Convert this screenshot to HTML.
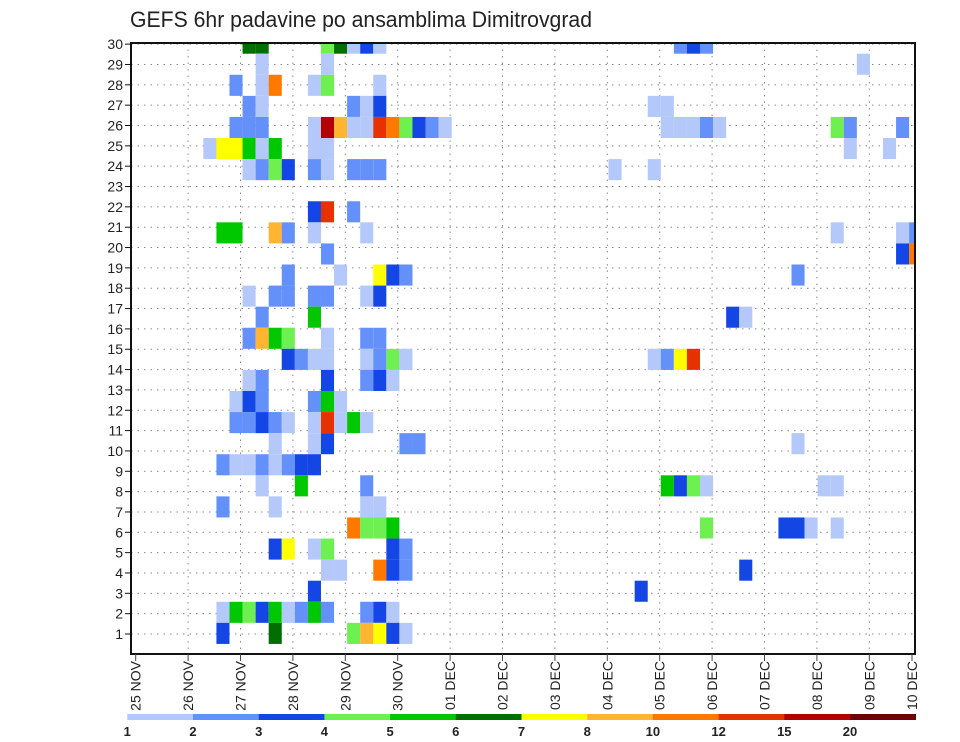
<!DOCTYPE html>
<html><head><meta charset="utf-8"><style>
html,body{margin:0;padding:0;background:#fff;}
svg{display:block;font-family:"Liberation Sans",sans-serif;}
</style></head><body>
<svg id="chart" width="960" height="742" viewBox="0 0 960 742" xmlns="http://www.w3.org/2000/svg">
<defs><clipPath id="plotclip"><rect x="131" y="43" width="784" height="611"/></clipPath></defs>
<rect x="0" y="0" width="960" height="742" fill="#fff"/>
<text x="130" y="27" font-size="22" fill="#222" textLength="462" lengthAdjust="spacingAndGlyphs">GEFS 6hr padavine po ansamblima Dimitrovgrad</text>
<g id="grid"></g>
<g id="cells" clip-path="url(#plotclip)"></g>
<rect x="131" y="43" width="784" height="611" fill="none" stroke="#111" stroke-width="2"/>
<g id="yaxis"></g>
<g id="xaxis"></g>
<g id="legend"></g>
</svg>
<script>
// ---- data ----
const dayLabels = ["25 NOV","26 NOV","27 NOV","28 NOV","29 NOV","30 NOV","01 DEC","02 DEC","03 DEC","04 DEC","05 DEC","06 DEC","07 DEC","08 DEC","09 DEC","10 DEC"];
const memberLabels = [1,2,3,4,5,6,7,8,9,10,11,12,13,14,15,16,17,18,19,20,21,22,23,24,25,26,27,28,29,30];
const levelLabels = [1,2,3,4,5,6,7,8,10,12,15,20];
const levelColors = ["#b4c8fa","#6490fa","#1446e6","#6ef050","#00c800","#006e00","#ffff00","#ffb432","#ff7800","#e63200","#b40000","#6e0000"];
// cells: band (row from top), column (6-hour step), precipitation value (mm)
const cellBand = [
0,0,0,0,0,0,0,0,0,0,
1,1,1,
2,2,2,2,2,2,
3,3,3,3,3,3,3,
4,4,4,4,4,4,4,4,4,4,4,4,4,4,4,4,4,4,4,4,4,4,
5,5,5,5,5,5,5,5,5,5,
6,6,6,6,6,6,6,6,6,6,6,
8,8,8,
9,9,9,9,9,9,9,9,9,
10,10,10,
11,11,11,11,11,11,
12,12,12,12,12,12,12,
13,13,13,13,
14,14,14,14,14,14,14,
15,15,15,15,15,15,15,15,15,15,15,15,
16,16,16,16,16,16,
17,17,17,17,17,17,
18,18,18,18,18,18,18,18,18,18,
19,19,19,19,19,19,
20,20,20,20,20,20,20,20,
21,21,21,21,21,21,21,21,21,
22,22,22,22,
23,23,23,23,23,23,23,23,23,
24,24,24,24,24,24,
25,25,25,25,25,25,
26,26,
27,27,27,27,27,27,27,27,27,27,27,27,
28,28,28,28,28,28,28];
const cellCol = [
8,9,14,15,16,17,18,41,42,43,
9,14,55,
7,9,10,13,14,18,
8,9,16,17,18,39,40,
7,8,9,13,14,15,16,17,18,19,20,21,22,23,40,41,42,43,44,53,54,58,
5,6,7,8,9,10,13,14,54,57,
8,9,10,11,13,14,16,17,18,36,39,
13,14,16,
6,7,10,11,13,17,53,58,59,
14,58,59,
11,15,18,19,20,50,
8,10,11,13,14,17,18,
9,13,45,46,
8,9,10,11,14,17,18,
11,12,13,14,17,18,19,20,39,40,41,42,
8,9,14,17,18,19,
7,8,9,13,14,15,
7,8,9,10,11,13,14,15,16,17,
10,13,14,20,21,50,
6,7,8,9,10,11,12,13,
9,12,17,40,41,42,43,52,53,
6,10,17,18,
16,17,18,19,43,49,50,51,53,
10,11,13,14,19,20,
14,15,18,19,20,46,
13,38,
6,7,8,9,10,11,12,13,14,17,18,19,
6,10,16,17,18,19,20];
const cellVal = [
6.5,6.5,4.5,6.5,1.5,3.5,1.5,2.5,3.5,2.5,
1.5,1.5,1.5,
2.5,1.5,11,1.5,4.5,1.5,
2.5,1.5,2.5,1.5,3.5,1.5,1.5,
2.5,2.5,2.5,1.5,17,9,1.5,1.5,13.5,11,4.5,3.5,2.5,1.5,1.5,1.5,1.5,2.5,1.5,4.5,2.5,2.5,
1.5,7.5,7.5,5.5,1.5,5.5,1.5,1.5,1.5,1.5,
1.5,2.5,4.5,3.5,2.5,1.5,2.5,2.5,2.5,1.5,1.5,
3.5,13.5,2.5,
5.5,5.5,9,2.5,1.5,1.5,1.5,1.5,2.5,
2.5,3.5,11,
2.5,1.5,7.5,3.5,2.5,2.5,
1.5,2.5,2.5,2.5,2.5,1.5,3.5,
2.5,5.5,3.5,1.5,
2.5,9,5.5,4.5,1.5,2.5,2.5,
3.5,2.5,1.5,1.5,1.5,2.5,4.5,1.5,1.5,2.5,7.5,13.5,
1.5,2.5,3.5,2.5,3.5,1.5,
1.5,3.5,2.5,2.5,5.5,1.5,
2.5,2.5,3.5,2.5,1.5,1.5,13.5,1.5,5.5,1.5,
1.5,1.5,3.5,2.5,2.5,1.5,
2.5,1.5,1.5,2.5,1.5,2.5,3.5,3.5,
1.5,5.5,2.5,5.5,3.5,4.5,1.5,1.5,1.5,
2.5,1.5,1.5,1.5,
11,4.5,4.5,5.5,4.5,3.5,3.5,1.5,1.5,
3.5,7.5,1.5,4.5,3.5,2.5,
1.5,1.5,11,3.5,2.5,3.5,
3.5,3.5,
1.5,5.5,4.5,3.5,5.5,1.5,2.5,5.5,2.5,2.5,3.5,1.5,
3.5,6.5,4.5,9,7.5,3.5,1.5];

// ---- axis functions ----
const NS = "http://www.w3.org/2000/svg";
function mk(tag, attrs){const e=document.createElementNS(NS,tag);for(const k in attrs)e.setAttribute(k,attrs[k]);return e;}
const plotL=131, plotR=915, plotT=43, plotB=654;
function xDay(d){return Math.min(135.7 + d*52.4, plotR);}
function xCol(c){return 138 + c*13.07;}
const colW = 13.07;
function yBand(b){return 32.62 + b*21.08;}
const bandH = 21.08;
function yMember(m){return 634 - (m-1)*20.34;}
function colorFor(v){let i=0;for(let k=0;k<levelLabels.length;k++){if(v>=levelLabels[k])i=k;}return levelColors[i];}

// grid
const grid=document.getElementById('grid');
memberLabels.forEach(m=>{
  const l=mk('line',{x1:plotL,x2:plotR,y1:yMember(m),y2:yMember(m),stroke:'#8a8a8a','stroke-width':1,'stroke-dasharray':'1.5 5'});
  
  
  grid.appendChild(l);
});
dayLabels.forEach((d,i)=>{
  if(i===0||i===dayLabels.length-1) return;
  const l=mk('line',{x1:xDay(i),x2:xDay(i),y1:plotT,y2:plotB,stroke:'#8a8a8a','stroke-width':1,'stroke-dasharray':'1.5 5'});
  
  
  grid.appendChild(l);
});

// cells
const cells=document.getElementById('cells');
for(let i=0;i<cellVal.length;i++){
  const r=mk('rect',{x:xCol(cellCol[i]),y:yBand(cellBand[i]),width:colW,height:bandH,fill:colorFor(cellVal[i])});
  
  
  cells.appendChild(r);
}

// y axis
const ya=document.getElementById('yaxis');
memberLabels.forEach(m=>{
  const t=mk('line',{x1:125,x2:131,y1:yMember(m),y2:yMember(m),stroke:'#111','stroke-width':1});
  
  
  ya.appendChild(t);
  const tx=mk('text',{x:123,y:yMember(m)+5,'text-anchor':'end','font-size':14,fill:'#222'});
  tx.textContent=m;
  
  
  ya.appendChild(tx);
});

// x axis
const xa=document.getElementById('xaxis');
dayLabels.forEach((d,i)=>{
  const x=(i===dayLabels.length-1)?912:xDay(i);
  const t=mk('line',{x1:x,x2:x,y1:plotB,y2:661,stroke:'#444','stroke-width':1});
  
  
  xa.appendChild(t);
  const tx=mk('text',{transform:'translate('+(x+5)+',661) rotate(-90)','text-anchor':'end','font-size':14,fill:'#222'});
  tx.textContent=d;
  
  
  xa.appendChild(tx);
});

// legend colorbar
const lg=document.getElementById('legend');
const segW=65.7, lx0=127.3;
levelColors.forEach((c,i)=>{
  const r=mk('rect',{x:lx0+i*segW,y:714,width:segW+0.3,height:6,fill:c});
  
  
  lg.appendChild(r);
});
levelLabels.forEach((v,i)=>{
  const t=mk('text',{x:lx0+i*segW,y:736,'text-anchor':'middle','font-size':13,'font-weight':'bold',fill:'#222'});
  t.textContent=v;
  
  
  lg.appendChild(t);
});
</script>
</body></html>
